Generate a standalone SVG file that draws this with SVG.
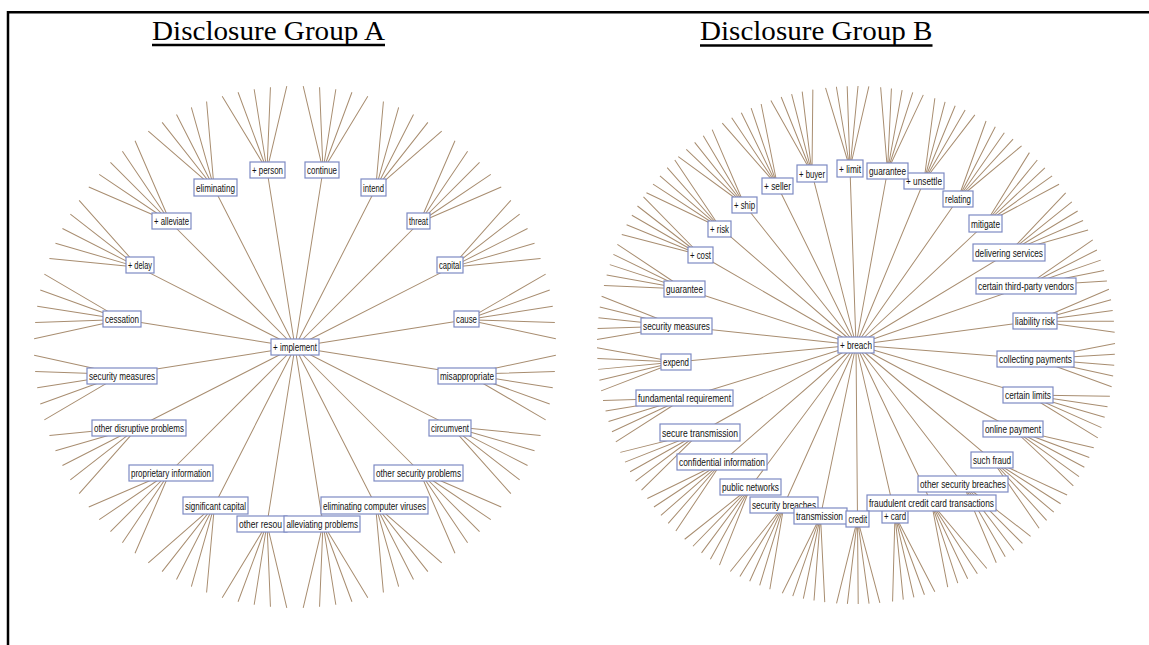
<svg xmlns="http://www.w3.org/2000/svg" width="1149" height="645" viewBox="0 0 1149 645">
  <style>
    .frame { stroke: #000; stroke-width: 2.5; fill: none; }
    .title { font-family: "Liberation Serif", "Times New Roman", serif; font-size: 27px; fill: #000; }
    .uline { stroke: #000; stroke-width: 2.4; }
    .e path { fill: none; stroke: #a88d70; stroke-width: 1; }
    .n rect { fill: #fff; stroke: #7d8ac3; stroke-width: 1.2; }
    .n text { font-family: "Liberation Sans", Arial, sans-serif; font-size: 11px; fill: #111; }
  </style>
  <rect width="1149" height="645" fill="#fff"/>

  <!-- page frame -->
  <line class="frame" x1="8" y1="11" x2="8" y2="645"/>
  <line class="frame" x1="7" y1="12.2" x2="1149" y2="12.2"/>

  <!-- headings -->
  <g id="title-a">
    <text class="title" x="152" y="39.5" textLength="233" lengthAdjust="spacingAndGlyphs">Disclosure Group A</text>
    <line class="uline" x1="152" y1="45" x2="385" y2="45"/>
  </g>
  <g id="title-b">
    <text class="title" x="700" y="40" textLength="232.5" lengthAdjust="spacingAndGlyphs">Disclosure Group B</text>
    <line class="uline" x1="700" y1="45.5" x2="932.5" y2="45.5"/>
  </g>

  <!-- connectors: hub to term, term to its five outer leaves -->
  <g id="connectors" class="e">
    <g id="edges-a" transform="translate(295,347)">
      <path transform="rotate(-9)" d="M0 0H173.8M173.8 0L258.94-32.71M173.8 0L260.49-16.39M173.8 0H261M173.8 0L260.49 16.39M173.8 0L258.94 32.71"/>
      <path transform="rotate(-27)" d="M0 0H175.4M175.4 0L258.94-32.71M175.4 0L260.49-16.39M175.4 0H261M175.4 0L260.49 16.39M175.4 0L258.94 32.71"/>
      <path transform="rotate(-45)" d="M0 0H176.4M176.4 0L258.94-32.71M176.4 0L260.49-16.39M176.4 0H261M176.4 0L260.49 16.39M176.4 0L258.94 32.71"/>
      <path transform="rotate(-63)" d="M0 0H177.8M177.8 0L258.94-32.71M177.8 0L260.49-16.39M177.8 0H261M177.8 0L260.49 16.39M177.8 0L258.94 32.71"/>
      <path transform="rotate(-81)" d="M0 0H179M179 0L258.94-32.71M179 0L260.49-16.39M179 0H261M179 0L260.49 16.39M179 0L258.94 32.71"/>
      <path transform="rotate(-99)" d="M0 0H179M179 0L258.94-32.71M179 0L260.49-16.39M179 0H261M179 0L260.49 16.39M179 0L258.94 32.71"/>
      <path transform="rotate(-117)" d="M0 0H178.2M178.2 0L258.94-32.71M178.2 0L260.49-16.39M178.2 0H261M178.2 0L260.49 16.39M178.2 0L258.94 32.71"/>
      <path transform="rotate(-135)" d="M0 0H176.4M176.4 0L258.94-32.71M176.4 0L260.49-16.39M176.4 0H261M176.4 0L260.49 16.39M176.4 0L258.94 32.71"/>
      <path transform="rotate(-153)" d="M0 0H175.4M175.4 0L258.94-32.71M175.4 0L260.49-16.39M175.4 0H261M175.4 0L260.49 16.39M175.4 0L258.94 32.71"/>
      <path transform="rotate(-171)" d="M0 0H175.2M175.2 0L258.94-32.71M175.2 0L260.49-16.39M175.2 0H261M175.2 0L260.49 16.39M175.2 0L258.94 32.71"/>
      <path transform="rotate(-189)" d="M0 0H175.4M175.4 0L258.94-32.71M175.4 0L260.49-16.39M175.4 0H261M175.4 0L260.49 16.39M175.4 0L258.94 32.71"/>
      <path transform="rotate(-207)" d="M0 0H175.8M175.8 0L258.94-32.71M175.8 0L260.49-16.39M175.8 0H261M175.8 0L260.49 16.39M175.8 0L258.94 32.71"/>
      <path transform="rotate(-225)" d="M0 0H176.8M176.8 0L258.94-32.71M176.8 0L260.49-16.39M176.8 0H261M176.8 0L260.49 16.39M176.8 0L258.94 32.71"/>
      <path transform="rotate(-243)" d="M0 0H177.3M177.3 0L258.94-32.71M177.3 0L260.49-16.39M177.3 0H261M177.3 0L260.49 16.39M177.3 0L258.94 32.71"/>
      <path transform="rotate(-261)" d="M0 0H179M179 0L258.94-32.71M179 0L260.49-16.39M179 0H261M179 0L260.49 16.39M179 0L258.94 32.71"/>
      <path transform="rotate(-279)" d="M0 0H179M179 0L258.94-32.71M179 0L260.49-16.39M179 0H261M179 0L260.49 16.39M179 0L258.94 32.71"/>
      <path transform="rotate(-297)" d="M0 0H177.3M177.3 0L258.94-32.71M177.3 0L260.49-16.39M177.3 0H261M177.3 0L260.49 16.39M177.3 0L258.94 32.71"/>
      <path transform="rotate(-315)" d="M0 0H176.4M176.4 0L258.94-32.71M176.4 0L260.49-16.39M176.4 0H261M176.4 0L260.49 16.39M176.4 0L258.94 32.71"/>
      <path transform="rotate(-333)" d="M0 0H174.9M174.9 0L258.94-32.71M174.9 0L260.49-16.39M174.9 0H261M174.9 0L260.49 16.39M174.9 0L258.94 32.71"/>
      <path transform="rotate(-351)" d="M0 0H174.4M174.4 0L258.94-32.71M174.4 0L260.49-16.39M174.4 0H261M174.4 0L260.49 16.39M174.4 0L258.94 32.71"/>
    </g>
    <g id="edges-b" transform="translate(856,345)">
      <path transform="rotate(-91.95)" d="M0 0H176.6M176.6 0L258.09-21.67M176.6 0L258.77-10.85M176.6 0H259M176.6 0L258.77 10.85M176.6 0L258.09 21.67"/>
      <path transform="rotate(-79.74)" d="M0 0H176.8M176.8 0L258.09-21.67M176.8 0L258.77-10.85M176.8 0H259M176.8 0L258.77 10.85M176.8 0L258.09 21.67"/>
      <path transform="rotate(-67.48)" d="M0 0H177.5M177.5 0L258.09-21.67M177.5 0L258.77-10.85M177.5 0H259M177.5 0L258.77 10.85M177.5 0L258.09 21.67"/>
      <path transform="rotate(-55.06)" d="M0 0H178.1M178.1 0L258.09-21.67M178.1 0L258.77-10.85M178.1 0H259M178.1 0L258.77 10.85M178.1 0L258.09 21.67"/>
      <path transform="rotate(-43.17)" d="M0 0H177.6M177.6 0L258.09-21.67M177.6 0L258.77-10.85M177.6 0H259M177.6 0L258.77 10.85M177.6 0L258.09 21.67"/>
      <path transform="rotate(-31.15)" d="M0 0H178.8M178.8 0L258.09-21.67M178.8 0L258.77-10.85M178.8 0H259M178.8 0L258.77 10.85M178.8 0L258.09 21.67"/>
      <path transform="rotate(-19.13)" d="M0 0H179.9M179.9 0L258.09-21.67M179.9 0L258.77-10.85M179.9 0H259M179.9 0L258.77 10.85M179.9 0L258.09 21.67"/>
      <path transform="rotate(-7.64)" d="M0 0H180.6M180.6 0L258.09-21.67M180.6 0L258.77-10.85M180.6 0H259M180.6 0L258.77 10.85M180.6 0L258.09 21.67"/>
      <path transform="rotate(4.46)" d="M0 0H180M180 0L258.09-21.67M180 0L258.77-10.85M180 0H259M180 0L258.77 10.85M180 0L258.09 21.67"/>
      <path transform="rotate(16.21)" d="M0 0H179.1M179.1 0L258.09-21.67M179.1 0L258.77-10.85M179.1 0H259M179.1 0L258.77 10.85M179.1 0L258.09 21.67"/>
      <path transform="rotate(28.15)" d="M0 0H178.1M178.1 0L258.09-21.67M178.1 0L258.77-10.85M178.1 0H259M178.1 0L258.77 10.85M178.1 0L258.09 21.67"/>
      <path transform="rotate(40.21)" d="M0 0H178.1M178.1 0L258.09-21.67M178.1 0L258.77-10.85M178.1 0H259M178.1 0L258.77 10.85M178.1 0L258.09 21.67"/>
      <path transform="rotate(52.41)" d="M0 0H175.4M175.4 0L258.09-21.67M175.4 0L258.77-10.85M175.4 0H259M175.4 0L258.77 10.85M175.4 0L258.09 21.67"/>
      <path transform="rotate(64.46)" d="M0 0H175.1M175.1 0L258.09-21.67M175.1 0L258.77-10.85M175.1 0H259M175.1 0L258.77 10.85M175.1 0L258.09 21.67"/>
      <path transform="rotate(77.08)" d="M0 0H174.4M174.4 0L258.09-21.67M174.4 0L258.77-10.85M174.4 0H259M174.4 0L258.77 10.85M174.4 0L258.09 21.67"/>
      <path transform="rotate(89.51)" d="M0 0H174M174 0L258.09-21.67M174 0L258.77-10.85M174 0H259M174 0L258.77 10.85M174 0L258.09 21.67"/>
      <path transform="rotate(101.73)" d="M0 0H174.6M174.6 0L258.09-21.67M174.6 0L258.77-10.85M174.6 0H259M174.6 0L258.77 10.85M174.6 0L258.09 21.67"/>
      <path transform="rotate(114.23)" d="M0 0H175.5M175.5 0L258.09-21.67M175.5 0L258.77-10.85M175.5 0H259M175.5 0L258.77 10.85M175.5 0L258.09 21.67"/>
      <path transform="rotate(126.61)" d="M0 0H176.9M176.9 0L258.09-21.67M176.9 0L258.77-10.85M176.9 0H259M176.9 0L258.77 10.85M176.9 0L258.09 21.67"/>
      <path transform="rotate(138.87)" d="M0 0H177.9M177.9 0L258.09-21.67M177.9 0L258.77-10.85M177.9 0H259M177.9 0L258.77 10.85M177.9 0L258.09 21.67"/>
      <path transform="rotate(150.71)" d="M0 0H178.9M178.9 0L258.09-21.67M178.9 0L258.77-10.85M178.9 0H259M178.9 0L258.77 10.85M178.9 0L258.09 21.67"/>
      <path transform="rotate(162.83)" d="M0 0H179.5M179.5 0L258.09-21.67M179.5 0L258.77-10.85M179.5 0H259M179.5 0L258.77 10.85M179.5 0L258.09 21.67"/>
      <path transform="rotate(174.6)" d="M0 0H180.8M180.8 0L258.09-21.67M180.8 0L258.77-10.85M180.8 0H259M180.8 0L258.77 10.85M180.8 0L258.09 21.67"/>
      <path transform="rotate(-173.96)" d="M0 0H180.5M180.5 0L258.09-21.67M180.5 0L258.77-10.85M180.5 0H259M180.5 0L258.77 10.85M180.5 0L258.09 21.67"/>
      <path transform="rotate(-161.92)" d="M0 0H180.4M180.4 0L258.09-21.67M180.4 0L258.77-10.85M180.4 0H259M180.4 0L258.77 10.85M180.4 0L258.09 21.67"/>
      <path transform="rotate(-149.94)" d="M0 0H179.7M179.7 0L258.09-21.67M179.7 0L258.77-10.85M179.7 0H259M179.7 0L258.77 10.85M179.7 0L258.09 21.67"/>
      <path transform="rotate(-139.2)" d="M0 0H179.1M179.1 0L258.09-21.67M179.1 0L258.77-10.85M179.1 0H259M179.1 0L258.77 10.85M179.1 0L258.09 21.67"/>
      <path transform="rotate(-128.53)" d="M0 0H179M179 0L258.09-21.67M179 0L258.77-10.85M179 0H259M179 0L258.77 10.85M179 0L258.09 21.67"/>
      <path transform="rotate(-116.28)" d="M0 0H177.3M177.3 0L258.09-21.67M177.3 0L258.77-10.85M177.3 0H259M177.3 0L258.77 10.85M177.3 0L258.09 21.67"/>
      <path transform="rotate(-104.39)" d="M0 0H177.1M177.1 0L258.09-21.67M177.1 0L258.77-10.85M177.1 0H259M177.1 0L258.77 10.85M177.1 0L258.09 21.67"/>
    </g>
  </g>

  <!-- Group A terms -->
  <g class="n">
    <g id="a-implement"><rect x="271" y="339" width="48" height="16"/><text x="273" y="351" textLength="44" lengthAdjust="spacingAndGlyphs">+ implement</text></g>
    <g id="a-cause"><rect x="454" y="311" width="25" height="16"/><text x="456" y="323" textLength="21" lengthAdjust="spacingAndGlyphs">cause</text></g>
    <g id="a-capital"><rect x="437" y="257" width="26" height="16"/><text x="439" y="269" textLength="22" lengthAdjust="spacingAndGlyphs">capital</text></g>
    <g id="a-threat"><rect x="407" y="213" width="23" height="16"/><text x="409" y="225" textLength="19" lengthAdjust="spacingAndGlyphs">threat</text></g>
    <g id="a-intend"><rect x="361" y="179" width="25" height="17"/><text x="363" y="191.5" textLength="21" lengthAdjust="spacingAndGlyphs">intend</text></g>
    <g id="a-continue"><rect x="305" y="162" width="34" height="16"/><text x="307" y="174" textLength="30" lengthAdjust="spacingAndGlyphs">continue</text></g>
    <g id="a-person"><rect x="250" y="162" width="35" height="16"/><text x="252" y="174" textLength="31" lengthAdjust="spacingAndGlyphs">+ person</text></g>
    <g id="a-eliminating"><rect x="194" y="179" width="43" height="17"/><text x="196" y="191.5" textLength="39" lengthAdjust="spacingAndGlyphs">eliminating</text></g>
    <g id="a-alleviate"><rect x="152" y="213" width="39" height="16"/><text x="154" y="225" textLength="35" lengthAdjust="spacingAndGlyphs">+ alleviate</text></g>
    <g id="a-delay"><rect x="126" y="257" width="28" height="16"/><text x="128" y="269" textLength="24" lengthAdjust="spacingAndGlyphs">+ delay</text></g>
    <g id="a-cessation"><rect x="103" y="311" width="38" height="16"/><text x="105" y="323" textLength="34" lengthAdjust="spacingAndGlyphs">cessation</text></g>
    <g id="a-security-measures"><rect x="87" y="368" width="70" height="16"/><text x="89" y="380" textLength="66" lengthAdjust="spacingAndGlyphs">security measures</text></g>
    <g id="a-other-disruptive-problems"><rect x="92" y="420" width="94" height="16"/><text x="94" y="432" textLength="90" lengthAdjust="spacingAndGlyphs">other disruptive problems</text></g>
    <g id="a-proprietary-information"><rect x="129" y="465" width="84" height="16"/><text x="131" y="477" textLength="80" lengthAdjust="spacingAndGlyphs">proprietary information</text></g>
    <g id="a-significant-capital"><rect x="183" y="497" width="65" height="17"/><text x="185" y="509.5" textLength="61" lengthAdjust="spacingAndGlyphs">significant capital</text></g>
    <g id="a-other-resources"><rect x="237" y="516" width="50" height="16"/><text x="239" y="528" textLength="43" lengthAdjust="spacingAndGlyphs">other resou</text></g>
    <g id="a-alleviating-problems"><rect x="284" y="516" width="76" height="16"/><text x="286.5" y="528" textLength="71.5" lengthAdjust="spacingAndGlyphs">alleviating problems</text></g>
    <g id="a-eliminating-computer-viruses"><rect x="321" y="497" width="107" height="17"/><text x="323" y="509.5" textLength="103" lengthAdjust="spacingAndGlyphs">eliminating computer viruses</text></g>
    <g id="a-other-security-problems"><rect x="374" y="465" width="89" height="16"/><text x="376" y="477" textLength="85" lengthAdjust="spacingAndGlyphs">other security problems</text></g>
    <g id="a-circumvent"><rect x="429" y="420" width="42" height="16"/><text x="431" y="432" textLength="38" lengthAdjust="spacingAndGlyphs">circumvent</text></g>
    <g id="a-misappropriate"><rect x="438" y="368" width="58" height="16"/><text x="440" y="380" textLength="54" lengthAdjust="spacingAndGlyphs">misappropriate</text></g>
  </g>

  <!-- Group B terms -->
  <g class="n">
    <g id="b-breach"><rect x="838" y="337" width="36" height="16"/><text x="840" y="349" textLength="32" lengthAdjust="spacingAndGlyphs">+ breach</text></g>
    <g id="b-limit"><rect x="837" y="160" width="26" height="17"/><text x="839" y="172.5" textLength="22" lengthAdjust="spacingAndGlyphs">+ limit</text></g>
    <g id="b-unsettle"><rect x="904" y="173" width="40" height="16"/><text x="906" y="185" textLength="36" lengthAdjust="spacingAndGlyphs">+ unsettle</text></g>
    <g id="b-guarantee-top"><rect x="867" y="163" width="41" height="16"/><text x="869" y="175" textLength="37" lengthAdjust="spacingAndGlyphs">guarantee</text></g>
    <g id="b-relating"><rect x="943" y="191" width="30" height="16"/><text x="945" y="203" textLength="26" lengthAdjust="spacingAndGlyphs">relating</text></g>
    <g id="b-mitigate"><rect x="969" y="215" width="33" height="17"/><text x="971" y="227.5" textLength="29" lengthAdjust="spacingAndGlyphs">mitigate</text></g>
    <g id="b-delivering-services"><rect x="973" y="244" width="72" height="17"/><text x="975" y="256.5" textLength="68" lengthAdjust="spacingAndGlyphs">delivering services</text></g>
    <g id="b-third-party-vendors"><rect x="976" y="278" width="100" height="16"/><text x="978" y="290" textLength="96" lengthAdjust="spacingAndGlyphs">certain third-party vendors</text></g>
    <g id="b-liability-risk"><rect x="1013" y="313" width="44" height="16"/><text x="1015" y="325" textLength="40" lengthAdjust="spacingAndGlyphs">liability risk</text></g>
    <g id="b-collecting-payments"><rect x="997" y="351" width="77" height="16"/><text x="999" y="363" textLength="73" lengthAdjust="spacingAndGlyphs">collecting payments</text></g>
    <g id="b-certain-limits"><rect x="1003" y="387" width="50" height="16"/><text x="1005" y="399" textLength="46" lengthAdjust="spacingAndGlyphs">certain limits</text></g>
    <g id="b-online-payment"><rect x="983" y="421" width="60" height="16"/><text x="985" y="433" textLength="56" lengthAdjust="spacingAndGlyphs">online payment</text></g>
    <g id="b-such-fraud"><rect x="971" y="452" width="42" height="16"/><text x="973" y="464" textLength="38" lengthAdjust="spacingAndGlyphs">such fraud</text></g>
    <g id="b-other-security-breaches"><rect x="918" y="476" width="90" height="16"/><text x="920" y="488" textLength="86" lengthAdjust="spacingAndGlyphs">other security breaches</text></g>
    <g id="b-card"><rect x="882" y="507" width="26" height="16"/><text x="884" y="520" textLength="22" lengthAdjust="spacingAndGlyphs">+ card</text></g>
    <g id="b-fraudulent-transactions"><rect x="867" y="495" width="129" height="16"/><text x="869" y="507" textLength="125" lengthAdjust="spacingAndGlyphs">fraudulent credit card transactions</text></g>
    <g id="b-security-breaches"><rect x="750" y="497" width="68" height="16"/><text x="752" y="509" textLength="64" lengthAdjust="spacingAndGlyphs">security breaches</text></g>
    <g id="b-transmission"><rect x="794" y="508" width="53" height="16"/><text x="796" y="520" textLength="47" lengthAdjust="spacingAndGlyphs">transmission</text></g>
    <g id="b-credit"><rect x="846" y="511" width="23" height="16"/><text x="848.5" y="523" textLength="18.5" lengthAdjust="spacingAndGlyphs">credit</text></g>
    <g id="b-public-networks"><rect x="720" y="479" width="61" height="16"/><text x="722" y="491" textLength="57" lengthAdjust="spacingAndGlyphs">public networks</text></g>
    <g id="b-confidential-information"><rect x="677" y="454" width="90" height="16"/><text x="679" y="466" textLength="86" lengthAdjust="spacingAndGlyphs">confidential information</text></g>
    <g id="b-secure-transmission"><rect x="660" y="424" width="80" height="17"/><text x="662" y="436.5" textLength="76" lengthAdjust="spacingAndGlyphs">secure transmission</text></g>
    <g id="b-fundamental-requirement"><rect x="636" y="390" width="97" height="16"/><text x="638" y="402" textLength="93" lengthAdjust="spacingAndGlyphs">fundamental requirement</text></g>
    <g id="b-expend"><rect x="661" y="354" width="30" height="16"/><text x="663" y="366" textLength="26" lengthAdjust="spacingAndGlyphs">expend</text></g>
    <g id="b-security-measures"><rect x="641" y="318" width="71" height="16"/><text x="643" y="330" textLength="67" lengthAdjust="spacingAndGlyphs">security measures</text></g>
    <g id="b-guarantee-left"><rect x="664" y="281" width="41" height="16"/><text x="666" y="293" textLength="37" lengthAdjust="spacingAndGlyphs">guarantee</text></g>
    <g id="b-cost"><rect x="688" y="247" width="25" height="16"/><text x="690" y="259" textLength="21" lengthAdjust="spacingAndGlyphs">+ cost</text></g>
    <g id="b-risk"><rect x="708" y="221" width="23" height="16"/><text x="710" y="233" textLength="19" lengthAdjust="spacingAndGlyphs">+ risk</text></g>
    <g id="b-ship"><rect x="732" y="197" width="25" height="16"/><text x="734" y="209" textLength="21" lengthAdjust="spacingAndGlyphs">+ ship</text></g>
    <g id="b-seller"><rect x="762" y="178" width="31" height="16"/><text x="764" y="190" textLength="27" lengthAdjust="spacingAndGlyphs">+ seller</text></g>
    <g id="b-buyer"><rect x="797" y="165" width="30" height="17"/><text x="799" y="177.5" textLength="26" lengthAdjust="spacingAndGlyphs">+ buyer</text></g>
  </g>
</svg>
